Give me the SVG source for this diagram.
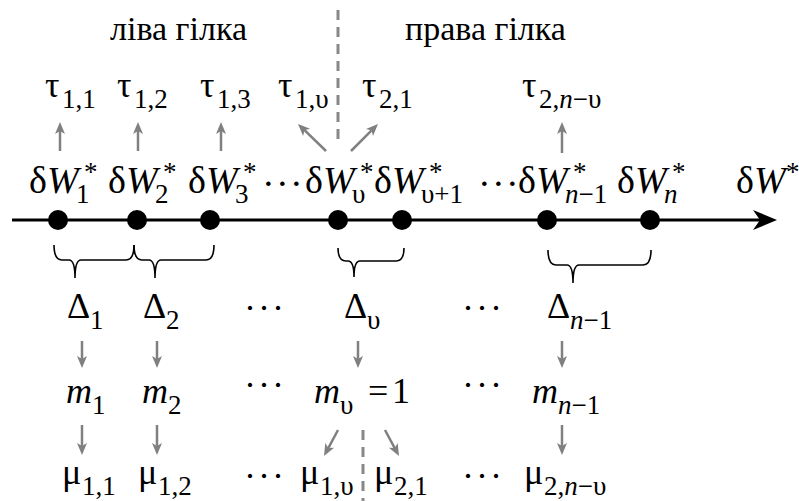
<svg xmlns="http://www.w3.org/2000/svg" width="799" height="501" viewBox="0 0 799 501">
<rect width="799" height="501" fill="#fff"/>
<g id="titles">
<text font-family="serif" font-size="34" x="110" y="40">ліва гілка</text>
<text font-family="serif" font-size="34" x="405" y="40">права гілка</text>
</g>
<g id="dividers" stroke="#888" stroke-width="3" stroke-dasharray="10 7" fill="none">
<line x1="338" y1="10" x2="338" y2="142"/>
<line x1="363" y1="430" x2="363" y2="501"/>
</g>

<g id="axis">
<line x1="12" y1="220" x2="765" y2="220" stroke="#000" stroke-width="3"/>
<path d="M777,220 L753,210 L760,220 L753,230 Z" fill="#000"/>
<text font-family="serif" font-size="38" x="736" y="193">δ<tspan font-style="italic">W</tspan></text>
<text font-family="serif" font-size="27" x="786" y="181">*</text>
</g>

<g id="w1"><circle cx="58" cy="220" r="10"/><text font-family="serif" font-size="38" x="29" y="193">δ<tspan font-style="italic">W</tspan></text><text font-family="serif" font-size="27" x="76" y="203">1</text><text font-family="serif" font-size="27" x="84" y="181">*</text></g>
<g id="w2"><circle cx="137" cy="220" r="10"/><text font-family="serif" font-size="38" x="108" y="193">δ<tspan font-style="italic">W</tspan></text><text font-family="serif" font-size="27" x="155" y="203">2</text><text font-family="serif" font-size="27" x="163" y="181">*</text></g>
<g id="w3"><circle cx="210" cy="220" r="10"/><text font-family="serif" font-size="38" x="188" y="193">δ<tspan font-style="italic">W</tspan></text><text font-family="serif" font-size="27" x="235" y="203">3</text><text font-family="serif" font-size="27" x="243" y="181">*</text></g>
<text font-family="serif" font-size="38" x="262 276 290" y="196">···</text>
<g id="wv"><circle cx="338" cy="220" r="10"/><text font-family="serif" font-size="38" x="305" y="193">δ<tspan font-style="italic">W</tspan></text><text font-family="serif" font-size="27" x="352" y="203">υ</text><text font-family="serif" font-size="27" x="360" y="181">*</text></g>
<g id="wv1"><circle cx="402" cy="220" r="10"/><text font-family="serif" font-size="38" x="374" y="193">δ<tspan font-style="italic">W</tspan></text><text font-family="serif" font-size="27" x="421" y="203">υ+1</text><text font-family="serif" font-size="27" x="429" y="181">*</text></g>
<text font-family="serif" font-size="38" x="478 492 506" y="196">···</text>
<g id="wn1"><circle cx="547" cy="220" r="10"/><text font-family="serif" font-size="38" x="518" y="193">δ<tspan font-style="italic">W</tspan></text><text font-family="serif" font-size="27" x="565" y="203"><tspan font-style="italic">n</tspan>−1</text><text font-family="serif" font-size="27" x="573" y="181">*</text></g>
<g id="wn"><circle cx="650" cy="220" r="10"/><text font-family="serif" font-size="38" x="617" y="193">δ<tspan font-style="italic">W</tspan></text><text font-family="serif" font-size="27" font-style="italic" x="664" y="203">n</text><text font-family="serif" font-size="27" x="672" y="181">*</text></g>

<g id="tau11"><text font-family="serif" font-size="36" x="45" y="97">τ</text><text font-family="serif" font-size="27" x="62" y="108">1,1</text></g>
<g id="tau12"><text font-family="serif" font-size="36" x="117" y="97">τ</text><text font-family="serif" font-size="27" x="134" y="108">1,2</text></g>
<g id="tau13"><text font-family="serif" font-size="36" x="200" y="97">τ</text><text font-family="serif" font-size="27" x="217" y="108">1,3</text></g>
<g id="tau1v"><text font-family="serif" font-size="36" x="278" y="97">τ</text><text font-family="serif" font-size="27" x="295" y="108">1,υ</text></g>
<g id="tau21"><text font-family="serif" font-size="36" x="362" y="97">τ</text><text font-family="serif" font-size="27" x="379" y="108">2,1</text></g>
<g id="tau2nv"><text font-family="serif" font-size="36" x="522" y="97">τ</text><text font-family="serif" font-size="27" x="539" y="108">2,<tspan font-style="italic">n</tspan>−υ</text></g>

<g id="braces" stroke="#000" stroke-width="1.6" fill="none">
<path d="M54,245 Q54,260 62,260 L69,260 Q75,260 75,278 Q75,260 81,260 L126,260 Q134,260 134,245"/>
<path d="M134,245 Q134,260 142,260 L149,260 Q155,260 155,278 Q155,260 161,260 L206,260 Q214,260 214,245"/>
<path d="M338,248 Q338,261 346,261 L348,261 Q354,261 354,277 Q354,261 360,261 L396,261 Q404,261 404,248"/>
<path d="M548,250 Q548,265 556,265 L567,265 Q573,265 573,283 Q573,265 579,265 L643,265 Q651,265 651,250"/>
</g>

<g id="d1"><text font-family="serif" font-size="36" x="67" y="318">Δ</text><text font-family="serif" font-size="27" x="90" y="329">1</text></g>
<g id="d2"><text font-family="serif" font-size="36" x="143" y="318">Δ</text><text font-family="serif" font-size="27" x="166" y="329">2</text></g>
<text font-family="serif" font-size="36" x="244 258 272" y="320">···</text>
<g id="dv"><text font-family="serif" font-size="36" x="344" y="318">Δ</text><text font-family="serif" font-size="27" x="367" y="329">υ</text></g>
<text font-family="serif" font-size="36" x="462 476 490" y="320">···</text>
<g id="dn1"><text font-family="serif" font-size="36" x="547" y="318">Δ</text><text font-family="serif" font-size="27" x="570" y="329"><tspan font-style="italic">n</tspan>−1</text></g>

<g id="m1"><text font-family="serif" font-size="36" font-style="italic" x="66" y="403">m</text><text font-family="serif" font-size="27" x="92" y="414">1</text></g>
<g id="m2"><text font-family="serif" font-size="36" font-style="italic" x="142" y="403">m</text><text font-family="serif" font-size="27" x="168" y="414">2</text></g>
<text font-family="serif" font-size="36" x="244 258 272" y="397">···</text>
<g id="mv"><text font-family="serif" font-size="36" font-style="italic" x="314" y="403">m</text><text font-family="serif" font-size="27" x="340" y="414">υ</text><text font-family="serif" font-size="36" x="368 392" y="403">=1</text></g>
<text font-family="serif" font-size="36" x="462 476 490" y="397">···</text>
<g id="mn1"><text font-family="serif" font-size="36" font-style="italic" x="532" y="403">m</text><text font-family="serif" font-size="27" x="558" y="414"><tspan font-style="italic">n</tspan>−1</text></g>

<g id="mu11"><text font-family="serif" font-size="36" x="62" y="484">μ</text><text font-family="serif" font-size="27" x="82" y="495">1,1</text></g>
<g id="mu12"><text font-family="serif" font-size="36" x="138" y="484">μ</text><text font-family="serif" font-size="27" x="158" y="495">1,2</text></g>
<text font-family="serif" font-size="36" x="244 258 272" y="488">···</text>
<g id="mu1v"><text font-family="serif" font-size="36" x="300" y="484">μ</text><text font-family="serif" font-size="27" x="320" y="495">1,υ</text></g>
<g id="mu21"><text font-family="serif" font-size="36" x="374" y="484">μ</text><text font-family="serif" font-size="27" x="394" y="495">2,1</text></g>
<text font-family="serif" font-size="36" x="462 476 490" y="488">···</text>
<g id="mu2nv"><text font-family="serif" font-size="36" x="524" y="484">μ</text><text font-family="serif" font-size="27" x="544" y="495">2,<tspan font-style="italic">n</tspan>−υ</text></g>

<g id="connectors">
<g stroke="#808080" stroke-width="2.5" fill="none">
<line x1="60" y1="151" x2="60" y2="130"/>
<line x1="138" y1="151" x2="138" y2="130"/>
<line x1="221" y1="151" x2="221" y2="130"/>
<line x1="326" y1="151" x2="304.5" y2="130.2"/>
<line x1="351" y1="151" x2="371.6" y2="130.4"/>
<line x1="562" y1="153" x2="562" y2="130"/>
<line x1="82" y1="341" x2="82" y2="360"/>
<line x1="157" y1="341" x2="157" y2="360"/>
<line x1="358" y1="341" x2="358" y2="360"/>
<line x1="562" y1="341" x2="562" y2="360"/>
<line x1="82" y1="425" x2="82" y2="447"/>
<line x1="157" y1="425" x2="157" y2="447"/>
<line x1="338" y1="430" x2="328.3" y2="448.1"/>
<line x1="385" y1="430" x2="394.7" y2="448.1"/>
<line x1="562" y1="425" x2="562" y2="447"/>
</g>
<g fill="#808080">
<path d="M60,122 L65,134 L60,131 L55,134 Z"/>
<path d="M138,122 L143,134 L138,131 L133,134 Z"/>
<path d="M221,122 L226,134 L221,131 L216,134 Z"/>
<path d="M298,124 L310.1,128.7 L304.5,130.2 L303.1,135.9 Z"/>
<path d="M378,124 L373,136 L371.6,130.4 L366,129 Z"/>
<path d="M562,122 L567,134 L562,131 L557,134 Z"/>
<path d="M82,368 L77,356 L82,359 L87,356 Z"/>
<path d="M157,368 L152,356 L157,359 L162,356 Z"/>
<path d="M358,368 L353,356 L358,359 L363,356 Z"/>
<path d="M562,368 L557,356 L562,359 L567,356 Z"/>
<path d="M82,455 L77,443 L82,446 L87,443 Z"/>
<path d="M157,455 L152,443 L157,446 L162,443 Z"/>
<path d="M324,456 L325.3,443 L328.3,448.1 L334.1,447.8 Z"/>
<path d="M399,456 L388.9,447.8 L394.7,448.1 L397.7,443 Z"/>
<path d="M562,455 L557,443 L562,446 L567,443 Z"/>
</g>
</g>
</svg>
